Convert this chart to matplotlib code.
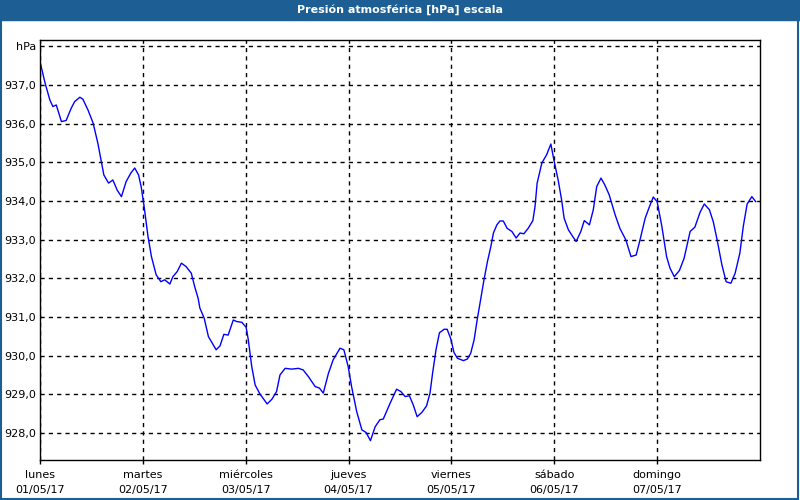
import matplotlib
matplotlib.use('Agg')
import matplotlib.pyplot as plt
from matplotlib.patches import Rectangle

# hours since lunes 01/05/17 00:00 and pressure in hPa
hours = [0, 1.2, 2.3, 3.0, 3.8, 5.0, 6.1, 7.3, 8.1, 9.3, 10.0, 11.2, 12.4, 13.5,
         14.3, 14.9, 16.0, 17.0, 18.0, 19.0, 20.1, 21.2, 22.1, 23.0, 23.6, 24.3,
         25.2, 26.0, 27.1, 28.2, 29.1, 30.3, 31.0, 32.0, 33.0, 34.1, 35.3, 36.1,
         36.9, 37.3, 38.3, 39.3, 41.1, 42.0, 42.9, 43.9, 45.1, 45.9, 47.1, 48.1,
         48.6, 49.4, 50.2, 51.3, 53.0, 54.1, 55.2, 56.0, 57.2, 58.7, 60.3, 61.4,
         62.6, 64.2, 65.2, 66.1, 67.3, 68.4, 70.0, 70.9, 71.9, 72.7, 73.9, 75.1,
         76.1, 77.1, 78.2, 79.3, 80.1, 81.7, 83.2, 84.2, 85.2, 86.2, 87.1, 88.0,
         89.1, 90.2, 91.0, 91.6, 92.4, 93.2, 94.3, 95.0, 95.8, 96.6, 97.4, 98.8,
         99.7, 100.5, 101.3, 102.0, 102.8, 103.6, 104.4, 105.2, 105.8, 106.6,
         107.3, 108.1, 109.0, 110.1, 111.1, 112.0, 112.9, 113.9, 115.0, 115.5,
         116.0, 117.1, 118.2, 119.2, 119.9, 120.9, 121.7, 122.3, 123.3, 124.3,
         125.1, 126.2, 127.0, 128.2, 129.1, 129.9, 130.9, 131.8, 132.8, 134.2,
         135.3, 136.7, 137.9, 139.1, 140.0, 141.2, 142.2, 143.1, 144.0, 145.1,
         146.2, 147.0, 148.0, 149.2, 150.3, 151.7, 152.8, 154.0, 155.0, 156.2,
         157.1, 158.0, 159.1, 160.1, 161.2, 162.2, 163.3, 164.1, 165.0, 166.1, 167.0]
pressure = [937.60, 937.04, 936.61, 936.44, 936.48, 936.05, 936.08, 936.40, 936.57,
            936.68, 936.63, 936.35, 936.01, 935.49, 935.02, 934.67, 934.46, 934.54,
            934.28, 934.11, 934.50, 934.72, 934.85, 934.67, 934.37, 933.85, 933.08,
            932.56, 932.09, 931.91, 931.96, 931.85, 932.04, 932.17, 932.39, 932.30,
            932.13, 931.78, 931.48, 931.23, 930.97, 930.49, 930.15, 930.25, 930.55,
            930.53, 930.92, 930.88, 930.86, 930.73, 930.41, 929.72, 929.24, 929.01,
            928.75, 928.87, 929.07, 929.50, 929.67, 929.65, 929.67, 929.63, 929.46,
            929.20, 929.16, 929.03, 929.54, 929.89, 930.19, 930.15, 929.72, 929.20,
            928.55, 928.08, 928.01, 927.80, 928.16, 928.34, 928.36, 928.77, 929.13,
            929.07, 928.94, 928.96, 928.72, 928.42, 928.53, 928.70, 929.03, 929.54,
            930.15, 930.59, 930.68, 930.68, 930.45, 930.08, 929.93, 929.87, 929.91,
            930.06, 930.41, 930.92, 931.44, 931.96, 932.43, 932.82, 933.17, 933.38,
            933.48, 933.48, 933.29, 933.21, 933.04, 933.17, 933.15, 933.29, 933.49,
            933.85, 934.46, 934.98, 935.19, 935.47, 935.06, 934.54, 934.03, 933.55,
            933.25, 933.08, 932.95, 933.21, 933.49, 933.38, 933.77, 934.37, 934.59,
            934.41, 934.16, 933.64, 933.29, 932.99, 932.56, 932.60, 932.99, 933.55,
            933.85, 934.10, 933.98, 933.34, 932.56, 932.26, 932.04, 932.20, 932.52,
            933.21, 933.32, 933.70, 933.92, 933.77, 933.46, 932.99, 932.35, 931.91,
            931.87, 932.13, 932.65, 933.34, 933.92, 934.11, 933.98]

days = ['lunes', 'martes', 'miércoles', 'jueves', 'viernes', 'sábado', 'domingo']
dates = ['01/05/17', '02/05/17', '03/05/17', '04/05/17', '05/05/17', '06/05/17', '07/05/17']
yvals = [928, 929, 930, 931, 932, 933, 934, 935, 936, 937]

fig = plt.figure(figsize=(8, 5), dpi=100)
fig.patch.set_facecolor('white')

# title bar + frame
blue = '#1d5f94'
fig.add_artist(Rectangle((0, 0.96), 1, 0.04, transform=fig.transFigure, color=blue, zorder=0))
fig.add_artist(Rectangle((0.001, 0.002), 0.997, 0.996, transform=fig.transFigure,
                         fill=False, edgecolor=blue, lw=1.5))
fig.text(0.5, 0.98, 'Presión atmosférica [hPa] escala', color='white', fontsize=8,
         fontweight='bold', ha='center', va='center')

ax = fig.add_axes([0.05, 0.08, 0.90, 0.84])
ax.plot(hours, pressure, color='#0000ff', lw=1)

ax.set_xlim(0, 168)
ax.set_ylim(927.3, 938.16)

ax.set_yticks(yvals + [938])
ax.set_yticklabels([f'{v},0' for v in yvals] + ['hPa'])
ax.set_xticks([24 * i for i in range(7)])
ax.set_xticklabels([d + '\n' + t for d, t in zip(days, dates)], linespacing=1.6)

ax.tick_params(axis='y', length=0, pad=3, labelsize=8, colors='black')
ax.tick_params(axis='x', length=3, width=1, pad=4, labelsize=8, colors='black')

ax.grid(True, color='black', lw=1, linestyle=(0, (3, 3)))
for s in ax.spines.values():
    s.set_color('black')
    s.set_linewidth(1.0)

fig.savefig('out.png', dpi=100)
